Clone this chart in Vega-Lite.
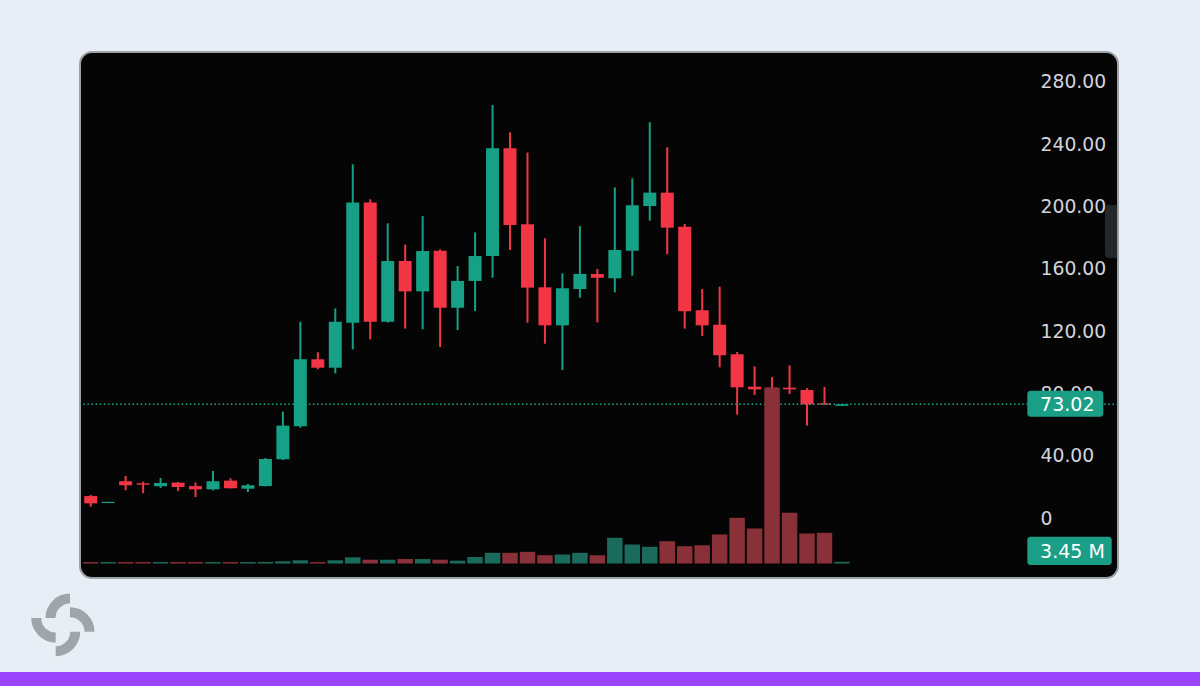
{
  "$schema": "https://vega.github.io/schema/vega-lite/v6.json",
  "width": 1038,
  "height": 526,
  "autosize": {"type": "none"},
  "padding": {"left": 80, "top": 52, "right": 82, "bottom": 108},
  "background": "#e8eef5",
  "config": {
    "view": {"fill": "#050505", "stroke": "#9da2a8", "strokeWidth": 2, "cornerRadius": 12}
  },
  "data": {
    "values": [
      {"i": 0, "o": 14.1, "h": 14.8, "l": 7.3, "c": 9.4, "v": 3},
      {"i": 1, "o": 9.6, "h": 10.4, "l": 9.6, "c": 10.4, "v": 3},
      {"i": 2, "o": 23.6, "h": 27.0, "l": 17.8, "c": 21.0, "v": 3},
      {"i": 3, "o": 22.3, "h": 23.3, "l": 15.9, "c": 21.4, "v": 3},
      {"i": 4, "o": 20.4, "h": 25.7, "l": 19.3, "c": 22.5, "v": 3},
      {"i": 5, "o": 22.7, "h": 23.1, "l": 17.3, "c": 19.9, "v": 3},
      {"i": 6, "o": 20.5, "h": 22.7, "l": 13.5, "c": 18.4, "v": 3},
      {"i": 7, "o": 18.4, "h": 30.2, "l": 17.8, "c": 23.6, "v": 3},
      {"i": 8, "o": 24.0, "h": 25.5, "l": 19.0, "c": 19.1, "v": 3},
      {"i": 9, "o": 18.8, "h": 21.8, "l": 16.7, "c": 21.0, "v": 3},
      {"i": 10, "o": 20.5, "h": 38.5, "l": 20.3, "c": 37.9, "v": 3.2},
      {"i": 11, "o": 37.7, "h": 68.3, "l": 37.2, "c": 59.3, "v": 4.5},
      {"i": 12, "o": 58.9, "h": 126.0, "l": 58.0, "c": 101.9, "v": 6.5},
      {"i": 13, "o": 101.9, "h": 106.4, "l": 95.5, "c": 96.5, "v": 3},
      {"i": 14, "o": 96.5, "h": 134.6, "l": 92.9, "c": 126.0, "v": 6.5},
      {"i": 15, "o": 125.4, "h": 227.1, "l": 108.3, "c": 202.5, "v": 12.6},
      {"i": 16, "o": 202.5, "h": 204.6, "l": 114.7, "c": 126.0, "v": 7.7},
      {"i": 17, "o": 126.0, "h": 189.2, "l": 125.5, "c": 165.0, "v": 7.7},
      {"i": 18, "o": 165.0, "h": 175.5, "l": 121.6, "c": 145.5, "v": 9.1},
      {"i": 19, "o": 145.5, "h": 193.9, "l": 121.2, "c": 171.4, "v": 9.1},
      {"i": 20, "o": 171.6, "h": 172.5, "l": 109.8, "c": 135.0, "v": 7.7},
      {"i": 21, "o": 135.0, "h": 161.8, "l": 120.7, "c": 152.2, "v": 5.7},
      {"i": 22, "o": 152.2, "h": 183.4, "l": 132.9, "c": 168.2, "v": 13.3},
      {"i": 23, "o": 168.2, "h": 265.2, "l": 154.3, "c": 237.4, "v": 21.7},
      {"i": 24, "o": 237.4, "h": 247.6, "l": 172.1, "c": 188.1, "v": 21.7},
      {"i": 25, "o": 188.6, "h": 234.6, "l": 125.4, "c": 147.9, "v": 23.7},
      {"i": 26, "o": 148.1, "h": 179.6, "l": 111.9, "c": 123.7, "v": 16.8},
      {"i": 27, "o": 123.7, "h": 157.1, "l": 95.0, "c": 147.5, "v": 18.3},
      {"i": 28, "o": 147.0, "h": 187.5, "l": 141.4, "c": 156.7, "v": 21.7},
      {"i": 29, "o": 156.7, "h": 159.9, "l": 125.6, "c": 154.3, "v": 16.8},
      {"i": 30, "o": 153.9, "h": 212.3, "l": 144.9, "c": 172.1, "v": 52.2},
      {"i": 31, "o": 171.6, "h": 218.1, "l": 155.6, "c": 200.8, "v": 38.6},
      {"i": 32, "o": 200.3, "h": 254.1, "l": 190.9, "c": 208.9, "v": 33.9},
      {"i": 33, "o": 208.9, "h": 238.0, "l": 169.3, "c": 186.4, "v": 45.3},
      {"i": 34, "o": 187.0, "h": 188.8, "l": 121.6, "c": 132.7, "v": 35.1},
      {"i": 35, "o": 133.4, "h": 147.0, "l": 116.9, "c": 123.7, "v": 37.1},
      {"i": 36, "o": 124.1, "h": 148.5, "l": 96.8, "c": 104.5, "v": 58.9},
      {"i": 37, "o": 105.1, "h": 106.6, "l": 66.3, "c": 83.9, "v": 92.8},
      {"i": 38, "o": 84.3, "h": 97.4, "l": 79.0, "c": 82.6, "v": 71.1},
      {"i": 39, "o": 83.7, "h": 90.5, "l": 76.2, "c": 82.8, "v": 356.7},
      {"i": 40, "o": 83.7, "h": 98.0, "l": 79.6, "c": 82.6, "v": 102.9},
      {"i": 41, "o": 82.2, "h": 83.3, "l": 59.3, "c": 73.0, "v": 60.9},
      {"i": 42, "o": 73.6, "h": 84.1, "l": 72.8, "c": 72.8, "v": 62.3},
      {"i": 43, "o": 72.0, "h": 73.02, "l": 72.0, "c": 73.02, "v": 3.45}
    ]
  },
  "layer": [
    {
      "mark": {"type": "rule", "strokeWidth": 2},
      "encoding": {
        "x": {"field": "i", "type": "quantitative", "scale": {"domain": [-0.6125, 58.8], "padding": 0, "nice": false, "zero": false}, "axis": null},
        "y": {
          "field": "l", "type": "quantitative",
          "scale": {"domain": [-38.52, 299.2], "nice": false, "zero": false},
          "axis": {
            "orient": "right", "offset": -78, "title": null,
            "values": [0, 40, 80, 120, 160, 200, 240, 280],
            "labelExpr": "datum.value == 0 ? '0' : format(datum.value, '.2f')",
            "labelAlign": "left", "labelPadding": 0, "labelBaseline": "middle",
            "labelFont": "DejaVu Sans", "labelFontSize": 18.8, "labelColor": "#d1d4dc",
            "labelOverlap": false, "labelFlush": false, "labelBound": false,
            "domain": false, "ticks": false, "grid": false, "zindex": 0
          }
        },
        "y2": {"field": "h"},
        "color": {"condition": {"test": "datum.c >= datum.o", "value": "#16a085"}, "value": "#f23645"}
      }
    },
    {
      "mark": {"type": "bar", "size": 13},
      "encoding": {
        "x": {"field": "i", "type": "quantitative", "scale": {"domain": [-0.6125, 58.8], "padding": 0, "nice": false, "zero": false}, "axis": null},
        "y": {"field": "o", "type": "quantitative", "scale": {"domain": [-38.52, 299.2], "nice": false, "zero": false}, "axis": null},
        "y2": {"field": "c"},
        "color": {"condition": {"test": "datum.c >= datum.o", "value": "#16a085"}, "value": "#f23645"}
      }
    },
    {
      "data": {"values": [{}]},
      "mark": {"type": "rule", "strokeWidth": 1.4, "strokeDash": [1.5, 2.6], "color": "#1fa88e"},
      "encoding": {
        "y": {"datum": 73.02, "type": "quantitative", "scale": {"domain": [-38.52, 299.2], "nice": false, "zero": false}, "axis": null}
      }
    },
    {
      "data": {"values": [{}]},
      "mark": {"type": "rect", "color": "#1a9e86", "cornerRadius": 3},
      "encoding": {
        "x": {"datum": 53.61, "type": "quantitative", "scale": {"domain": [-0.6125, 58.8], "padding": 0, "nice": false, "zero": false}, "axis": null},
        "x2": {"datum": 57.96},
        "y": {"datum": 81.7, "type": "quantitative", "scale": {"domain": [-38.52, 299.2], "nice": false, "zero": false}, "axis": null},
        "y2": {"datum": 65.0}
      }
    },
    {
      "data": {"values": [{}]},
      "mark": {"type": "text", "text": "73.02", "font": "DejaVu Sans", "fontSize": 19, "color": "#ffffff", "align": "left", "baseline": "middle", "dy": 1},
      "encoding": {
        "x": {"datum": 54.34, "type": "quantitative", "scale": {"domain": [-0.6125, 58.8], "padding": 0, "nice": false, "zero": false}, "axis": null},
        "y": {"datum": 73.02, "type": "quantitative", "scale": {"domain": [-38.52, 299.2], "nice": false, "zero": false}, "axis": null}
      }
    },
    {
      "data": {"values": [{}]},
      "mark": {"type": "rect", "color": "#1a9e86", "cornerRadius": 3},
      "encoding": {
        "x": {"datum": 53.61, "type": "quantitative", "scale": {"domain": [-0.6125, 58.8], "padding": 0, "nice": false, "zero": false}, "axis": null},
        "x2": {"datum": 58.44},
        "y": {"datum": -12.0, "type": "quantitative", "scale": {"domain": [-38.52, 299.2], "nice": false, "zero": false}, "axis": null},
        "y2": {"datum": -30.2}
      }
    },
    {
      "data": {"values": [{}]},
      "mark": {"type": "text", "text": "3.45 M", "font": "DejaVu Sans", "fontSize": 19, "color": "#ffffff", "align": "left", "baseline": "middle", "dy": 1},
      "encoding": {
        "x": {"datum": 54.34, "type": "quantitative", "scale": {"domain": [-0.6125, 58.8], "padding": 0, "nice": false, "zero": false}, "axis": null},
        "y": {"datum": -21.1, "type": "quantitative", "scale": {"domain": [-38.52, 299.2], "nice": false, "zero": false}, "axis": null}
      }
    },
    {
      "data": {"values": [{}]},
      "mark": {"type": "rect", "color": "#23262b", "cornerRadiusTopLeft": 3, "cornerRadiusBottomLeft": 3},
      "encoding": {
        "x": {"datum": 58.06, "type": "quantitative", "scale": {"domain": [-0.6125, 58.8], "padding": 0, "nice": false, "zero": false}, "axis": null},
        "x2": {"datum": 58.75},
        "y": {"datum": 201.0, "type": "quantitative", "scale": {"domain": [-38.52, 299.2], "nice": false, "zero": false}, "axis": null},
        "y2": {"datum": 166.9}
      }
    },
    {
      "data": {"values": [{}]},
      "mark": {"type": "rect", "color": "#9b44fd", "clip": false},
      "encoding": {
        "x": {"datum": -6, "type": "quantitative", "scale": {"domain": [-0.6125, 58.8], "padding": 0, "nice": false, "zero": false}, "axis": null},
        "x2": {"datum": 64},
        "y": {"datum": -98.9, "type": "quantitative", "scale": {"domain": [-38.52, 299.2], "nice": false, "zero": false}, "axis": null},
        "y2": {"datum": -115}
      }
    },
    {
      "data": {"values": [{}]},
      "mark": {"type": "arc", "color": "#a0a5ab", "clip": false, "theta": -1.5708, "theta2": 0, "radius": 24.5, "radius2": 14.5},
      "encoding": {
        "x": {"datum": -1.185, "type": "quantitative", "scale": {"domain": [-0.6125, 58.8], "padding": 0, "nice": false, "zero": false}, "axis": null},
        "y": {"datum": -64.2, "type": "quantitative", "scale": {"domain": [-38.52, 299.2], "nice": false, "zero": false}, "axis": null}
      }
    },
    {
      "data": {"values": [{}]},
      "mark": {"type": "arc", "color": "#a0a5ab", "clip": false, "theta": 0, "theta2": 1.5708, "radius": 24.5, "radius2": 14.5},
      "encoding": {
        "x": {"datum": -1.185, "type": "quantitative", "scale": {"domain": [-0.6125, 58.8], "padding": 0, "nice": false, "zero": false}, "axis": null},
        "y": {"datum": -73.0, "type": "quantitative", "scale": {"domain": [-38.52, 299.2], "nice": false, "zero": false}, "axis": null}
      }
    },
    {
      "data": {"values": [{}]},
      "mark": {"type": "arc", "color": "#a0a5ab", "clip": false, "theta": 3.1416, "theta2": 4.7124, "radius": 24.5, "radius2": 14.5},
      "encoding": {
        "x": {"datum": -2.003, "type": "quantitative", "scale": {"domain": [-0.6125, 58.8], "padding": 0, "nice": false, "zero": false}, "axis": null},
        "y": {"datum": -64.2, "type": "quantitative", "scale": {"domain": [-38.52, 299.2], "nice": false, "zero": false}, "axis": null}
      }
    },
    {
      "data": {"values": [{}]},
      "mark": {"type": "arc", "color": "#a0a5ab", "clip": false, "theta": 1.5708, "theta2": 3.1416, "radius": 24.5, "radius2": 14.5},
      "encoding": {
        "x": {"datum": -2.003, "type": "quantitative", "scale": {"domain": [-0.6125, 58.8], "padding": 0, "nice": false, "zero": false}, "axis": null},
        "y": {"datum": -73.0, "type": "quantitative", "scale": {"domain": [-38.52, 299.2], "nice": false, "zero": false}, "axis": null}
      }
    },
    {
      "mark": {"type": "bar", "size": 15.5},
      "encoding": {
        "x": {"field": "i", "type": "quantitative", "scale": {"domain": [-0.6125, 58.8], "padding": 0, "nice": false, "zero": false}, "axis": null},
        "y": {"field": "v", "type": "quantitative", "scale": {"domain": [-29.4, 1038.4], "nice": false, "zero": false}, "axis": null},
        "y2": {"datum": 0},
        "color": {"condition": {"test": "datum.c >= datum.o", "value": "#1b6b5c"}, "value": "#8a3038"}
      }
    }
  ],
  "resolve": {"scale": {"y": "independent"}}
}
